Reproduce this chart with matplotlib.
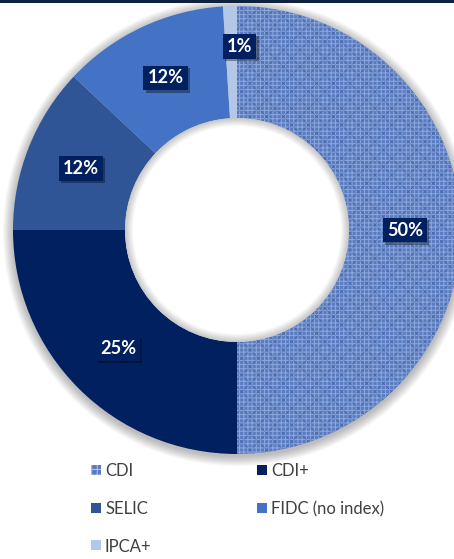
import matplotlib
matplotlib.use('Agg')
import matplotlib.pyplot as plt
import numpy as np
from matplotlib.patches import Circle, Wedge, Rectangle
from matplotlib.font_manager import FontProperties
from matplotlib.textpath import TextPath
import matplotlib.patheffects as pe

# data
labels = ['CDI', 'CDI+', 'SELIC', 'FIDC (no index)', 'IPCA+']
shares = [50, 25, 12, 12, 1]
colors = ['#5A7BC0', '#002060', '#2F5597', '#4472C4', '#B4C7E7']
# nudges (pixels) for labels that sit off the ring middle
label_nudge = {4: (8, 16)}

FAMILY = ['Lato', 'DejaVu Sans']
plt.rcParams['font.family'] = FAMILY
plt.rcParams['hatch.linewidth'] = 0.7

W, H = 454, 559
DPI = 100


def fit_size(s, px, weight='normal'):
	# font size (pt) giving a text width of px pixels
	fp = FontProperties(family=FAMILY, weight=weight)
	w = TextPath((0, 0), s, size=10, prop=fp).get_extents().width
	return 10 * px / (w * DPI / 72)


lab_fs = fit_size('12%', 34, 'bold')
leg_fs = fit_size('FIDC (no index)', 111)

fig = plt.figure(figsize=(W / DPI, H / DPI), dpi=DPI)
ax = fig.add_axes([0, 0, 1, 1])

cx, cy = 237, 329
R = 224
ring = 112
rin = R - ring

# soft outer shadow
for k in range(1, 11):
	ax.add_patch(Circle((cx, cy - 2), R + k, color='k', alpha=0.028, lw=0, zorder=0))

wedges, _ = ax.pie(shares, colors=colors, radius=R, center=(cx, cy),
					startangle=90, counterclock=False,
					wedgeprops=dict(width=ring, linewidth=0))
for w in wedges:
	w.set_zorder(1)

# woven texture on the CDI slice
cdi = wedges[0]
ax.add_patch(Wedge((cx, cy), R, cdi.theta1, cdi.theta2, width=ring, facecolor='none',
				   edgecolor='#B0C6F0', hatch='++++', lw=0, alpha=0.6, zorder=2))
ax.add_patch(Wedge((cx, cy), R, cdi.theta1, cdi.theta2, width=ring, facecolor='none',
				   edgecolor='#2A4686', hatch='xx', lw=0, alpha=0.3, zorder=2))

# hole, with soft inner shading
ax.add_patch(Circle((cx, cy), rin, color='white', lw=0, zorder=3))
for k in range(1, 9):
	ax.add_patch(Wedge((cx, cy), rin, 0, 360, width=k, color='k', alpha=0.028,
					   lw=0, zorder=4))

# data labels
for i, w in enumerate(wedges):
	ang = np.deg2rad((w.theta1 + w.theta2) / 2)
	rr = R - ring / 2
	x = cx + rr * np.cos(ang)
	y = cy + rr * np.sin(ang)
	dx, dy = label_nudge.get(i, (0, 0))
	t = ax.annotate(f'{shares[i]}%', (x, y), xytext=(dx, dy), textcoords='offset pixels',
					ha='center', va='center', fontsize=lab_fs, fontweight='bold', color='white',
					bbox=dict(boxstyle='square,pad=0.22', fc='#002060', ec='none'),
					zorder=5)
	t.get_bbox_patch().set_path_effects([
		pe.withSimplePatchShadow(offset=(1.5, -1.5), shadow_rgbFace='k', alpha=0.35),
		pe.Normal()])

# thin dark band on top
ax.axhspan(H - 2.5, H, color='#0E2240', lw=0, zorder=6)

ax.set_xlim(0, W)
ax.set_ylim(0, H)
ax.set_aspect('equal')
ax.axis('off')

# legend laid out row by row, two columns (figure pixels)
col_x = [91, 257]
row_y = [470, 508, 545]
for i, name in enumerate(labels):
	hx = col_x[i % 2]
	hy = H - row_y[i // 2]
	if i == 0:
		sq = Rectangle((hx, hy - 5), 10, 10, facecolor=colors[i], edgecolor='#B0C6F0',
					   hatch='+++', lw=0, zorder=7)
	else:
		sq = Rectangle((hx, hy - 5), 10, 10, facecolor=colors[i], lw=0, zorder=7)
	ax.add_patch(sq)
	ax.text(hx + 14, hy, name, ha='left', va='center_baseline', fontsize=leg_fs,
			color='#404040', zorder=7)

fig.savefig('out.png', dpi=DPI)
